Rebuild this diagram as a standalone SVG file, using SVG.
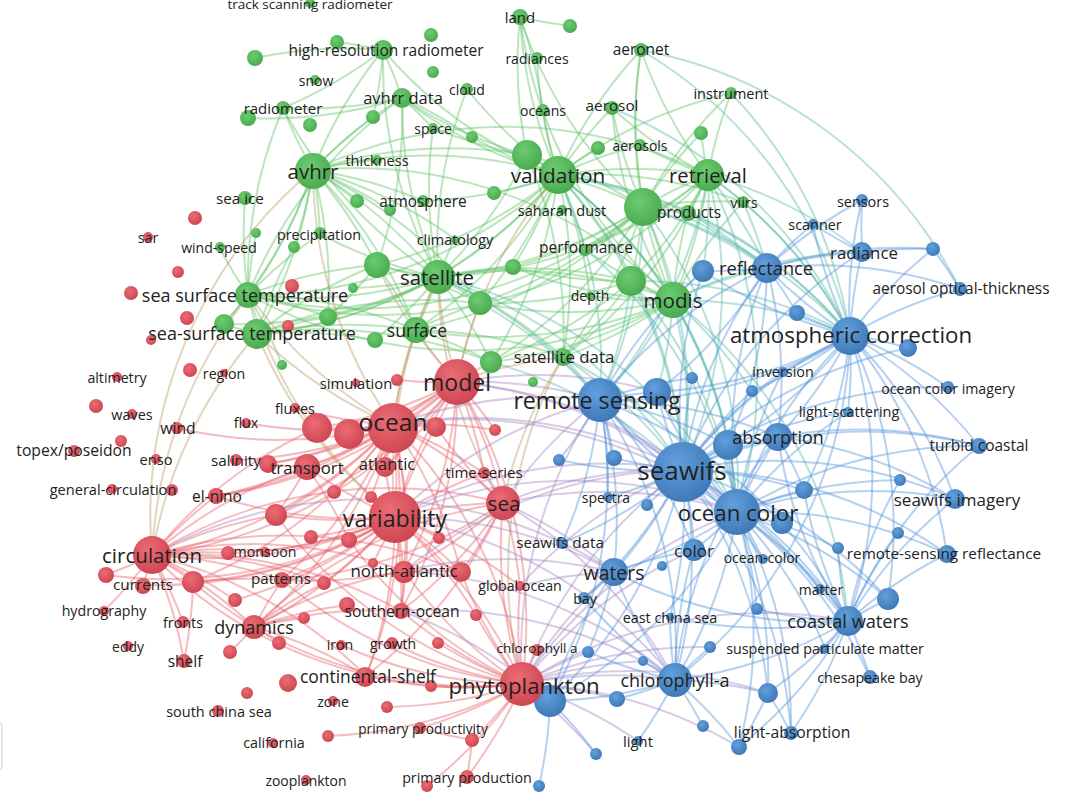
<svg xmlns="http://www.w3.org/2000/svg" width="1080" height="792" viewBox="0 0 1080 792">
<style>
text{font-family:"Open Sans","Liberation Sans",sans-serif;fill:#222;dominant-baseline:central;text-anchor:middle}
.G circle{fill:url(#gg)}
.R circle{fill:url(#gr)}
.B circle{fill:url(#gb)}
#connectors path{fill:none;stroke-width:2;stroke-opacity:.42}
.eg path{stroke:#5cc062}
.er path{stroke:#e8606a}
.eb path{stroke:#4f92da}
.egb path{stroke:#55b8a6}
.erg path{stroke:#b99a6a}
.erb path{stroke:#a284c0}
</style>
<defs>
<radialGradient id="gg" cx="40%" cy="35%" r="70%"><stop offset="0" stop-color="#6dcc71"/><stop offset="1" stop-color="#47a84c"/></radialGradient>
<radialGradient id="gr" cx="40%" cy="35%" r="70%"><stop offset="0" stop-color="#ec6c74"/><stop offset="1" stop-color="#cc4450"/></radialGradient>
<radialGradient id="gb" cx="40%" cy="35%" r="70%"><stop offset="0" stop-color="#62a0dc"/><stop offset="1" stop-color="#3d76b6"/></radialGradient>
</defs>
<rect width="1080" height="792" fill="#fff"/>
<rect x="-10" y="722" width="12" height="48" rx="4" fill="#fff" stroke="#cfcfcf"/>
<g id="connectors">
<g class="eg">
<path d="M313 170A450 450 0 0 1 249 295"/><path d="M313 170A450 450 0 0 1 257 334"/><path d="M313 170A450 450 0 0 1 224 324"/><path d="M313 170A450 450 0 0 1 438 277"/><path d="M313 170A450 450 0 0 1 377 265"/><path d="M313 170A450 450 0 0 1 320 234"/><path d="M313 170A450 450 0 0 1 294 247"/><path d="M313 170A450 450 0 0 1 377 160"/><path d="M313 170A450 450 0 0 1 390 210"/><path d="M313 170A450 450 0 0 1 423 201"/><path d="M313 170A450 450 0 0 1 558 175"/><path d="M313 170A450 450 0 0 1 527 155"/><path d="M313 170A450 450 0 0 1 402 98"/><path d="M313 170A450 450 0 0 1 383 50"/><path d="M313 170A450 450 0 0 1 283 108"/><path d="M313 170A450 450 0 0 1 416 330"/><path d="M313 170A450 450 0 0 1 328 317"/><path d="M313 170A450 450 0 0 1 480 303"/><path d="M313 170A450 450 0 0 1 673 300"/><path d="M313 170A450 450 0 0 1 708 175"/><path d="M313 170A450 450 0 0 1 455 239"/><path d="M313 170A450 450 0 0 1 373 117"/><path d="M313 170A450 450 0 0 1 357 201"/>
<path d="M558 175A450 450 0 0 1 520 17"/><path d="M558 175A450 450 0 0 1 543 110"/><path d="M558 175A450 450 0 0 1 641 50"/><path d="M558 175A450 450 0 0 1 612 108"/><path d="M558 175A450 450 0 0 1 643 207"/><path d="M558 175A450 450 0 0 1 708 175"/><path d="M558 175A450 450 0 0 1 673 300"/><path d="M558 175A450 450 0 0 1 631 281"/><path d="M558 175A450 450 0 0 1 438 277"/><path d="M558 175A450 450 0 0 1 416 330"/><path d="M558 175A450 450 0 0 1 480 303"/><path d="M558 175A450 450 0 0 1 491 362"/><path d="M558 175A450 450 0 0 1 563 357"/><path d="M558 175A450 450 0 0 1 585 249"/><path d="M558 175A450 450 0 0 1 513 267"/><path d="M558 175A450 450 0 0 1 688 213"/><path d="M558 175A450 450 0 0 1 743 202"/><path d="M558 175A450 450 0 0 1 731 93"/><path d="M558 175A450 450 0 0 1 249 295"/><path d="M558 175A450 450 0 0 1 257 334"/><path d="M558 175A450 450 0 0 1 423 201"/><path d="M558 175A450 450 0 0 1 383 50"/><path d="M558 175A450 450 0 0 1 402 98"/><path d="M558 175A450 450 0 0 1 467 89"/><path d="M558 175A450 450 0 0 1 494 193"/><path d="M558 175A450 450 0 0 1 598 148"/><path d="M558 175A450 450 0 0 1 640 145"/><path d="M558 175A450 450 0 0 1 590 296"/><path d="M558 175A450 450 0 0 1 377 265"/><path d="M558 175A450 450 0 0 1 537 58"/><path d="M558 175A450 450 0 0 1 472 137"/>
<path d="M527 155A450 450 0 0 1 520 17"/><path d="M527 155A450 450 0 0 1 438 277"/><path d="M527 155A450 450 0 0 1 643 207"/><path d="M527 155A450 450 0 0 1 673 300"/><path d="M527 155A450 450 0 0 1 402 98"/><path d="M527 155A450 450 0 0 1 433 128"/><path d="M527 155A450 450 0 0 1 563 357"/>
<path d="M643 207A450 450 0 0 1 641 50"/><path d="M643 207A450 450 0 0 1 612 108"/><path d="M643 207A450 450 0 0 1 708 175"/><path d="M643 207A450 450 0 0 1 673 300"/><path d="M643 207A450 450 0 0 1 631 281"/><path d="M643 207A450 450 0 0 1 438 277"/><path d="M643 207A450 450 0 0 1 563 357"/><path d="M643 207A450 450 0 0 1 513 267"/><path d="M643 207A450 450 0 0 1 585 249"/><path d="M643 207A450 450 0 0 1 688 213"/><path d="M643 207A450 450 0 0 1 743 202"/><path d="M643 207A450 450 0 0 1 731 93"/><path d="M643 207A450 450 0 0 1 701 133"/><path d="M643 207A450 450 0 0 1 520 17"/><path d="M643 207A450 450 0 0 1 480 303"/><path d="M643 207A450 450 0 0 1 416 330"/><path d="M643 207A450 450 0 0 1 249 295"/><path d="M643 207A450 450 0 0 1 491 362"/>
<path d="M708 175A450 450 0 0 1 641 50"/><path d="M708 175A450 450 0 0 1 731 93"/><path d="M708 175A450 450 0 0 1 673 300"/><path d="M708 175A450 450 0 0 1 631 281"/><path d="M708 175A450 450 0 0 1 743 202"/><path d="M708 175A450 450 0 0 1 688 213"/><path d="M708 175A450 450 0 0 1 438 277"/><path d="M708 175A450 450 0 0 1 563 357"/><path d="M708 175A450 450 0 0 1 612 108"/><path d="M708 175A450 450 0 0 1 640 145"/><path d="M708 175A450 450 0 0 1 701 133"/><path d="M708 175A450 450 0 0 1 249 295"/><path d="M708 175A450 450 0 0 1 585 249"/>
<path d="M438 277A450 450 0 0 1 249 295"/><path d="M438 277A450 450 0 0 1 257 334"/><path d="M438 277A450 450 0 0 1 224 324"/><path d="M438 277A450 450 0 0 1 416 330"/><path d="M438 277A450 450 0 0 1 480 303"/><path d="M438 277A450 450 0 0 1 491 362"/><path d="M438 277A450 450 0 0 1 673 300"/><path d="M438 277A450 450 0 0 1 631 281"/><path d="M438 277A450 450 0 0 1 563 357"/><path d="M438 277A450 450 0 0 1 377 265"/><path d="M438 277A450 450 0 0 1 513 267"/><path d="M438 277A450 450 0 0 1 320 234"/><path d="M438 277A450 450 0 0 1 383 50"/><path d="M438 277A450 450 0 0 1 402 98"/><path d="M438 277A450 450 0 0 1 433 128"/><path d="M438 277A450 450 0 0 1 455 239"/><path d="M438 277A450 450 0 0 1 328 317"/><path d="M438 277A450 450 0 0 1 375 340"/><path d="M438 277A450 450 0 0 1 283 108"/><path d="M438 277A450 450 0 0 1 467 89"/><path d="M438 277A450 450 0 0 1 353 288"/>
<path d="M673 300A450 450 0 0 1 631 281"/><path d="M673 300A450 450 0 0 1 563 357"/><path d="M673 300A450 450 0 0 1 513 267"/><path d="M673 300A450 450 0 0 1 585 249"/><path d="M673 300A450 450 0 0 1 688 213"/><path d="M673 300A450 450 0 0 1 743 202"/><path d="M673 300A450 450 0 0 1 612 108"/><path d="M673 300A450 450 0 0 1 641 50"/><path d="M673 300A450 450 0 0 1 480 303"/><path d="M673 300A450 450 0 0 1 491 362"/><path d="M673 300A450 450 0 0 1 590 296"/><path d="M673 300A450 450 0 0 1 416 330"/><path d="M673 300A450 450 0 0 1 249 295"/><path d="M673 300A450 450 0 0 1 520 17"/>
<path d="M248 295A450 450 0 0 1 257 334"/><path d="M248 295A450 450 0 0 1 224 324"/><path d="M248 295A450 450 0 0 1 328 317"/><path d="M248 295A450 450 0 0 1 377 265"/><path d="M248 295A450 450 0 0 1 416 330"/><path d="M248 295A450 450 0 0 1 320 234"/><path d="M248 295A450 450 0 0 1 219 247"/><path d="M248 295A450 450 0 0 1 256 233"/><path d="M248 295A450 450 0 0 1 245 198"/><path d="M248 295A450 450 0 0 1 283 108"/><path d="M248 295A450 450 0 0 1 402 98"/><path d="M248 295A450 450 0 0 1 282 365"/>
<path d="M257 334A450 450 0 0 1 224 324"/><path d="M257 334A450 450 0 0 1 328 317"/><path d="M257 334A450 450 0 0 1 377 265"/><path d="M257 334A450 450 0 0 1 416 330"/><path d="M257 334A450 450 0 0 1 480 303"/><path d="M257 334A450 450 0 0 1 375 340"/><path d="M257 334A450 450 0 0 1 294 247"/><path d="M257 334A450 450 0 0 1 491 362"/>
<path d="M383 50A450 450 0 0 1 402 98"/><path d="M383 50A450 450 0 0 1 283 108"/><path d="M383 50A450 450 0 0 1 373 117"/><path d="M255 58A450 450 0 0 1 383 50"/><path d="M337 42A450 450 0 0 1 383 50"/>
<path d="M402 98A450 450 0 0 1 377 265"/><path d="M402 98A450 450 0 0 1 283 108"/><path d="M402 98A450 450 0 0 1 248 118"/><path d="M402 98A450 450 0 0 1 433 128"/><path d="M402 98A450 450 0 0 1 472 137"/>
<path d="M520 17A450 450 0 0 1 543 110"/><path d="M570 26A450 450 0 0 1 520 17"/><path d="M377 265A450 450 0 0 1 416 330"/><path d="M377 265A450 450 0 0 1 480 303"/><path d="M377 265A450 450 0 0 1 328 317"/><path d="M416 330A450 450 0 0 1 480 303"/><path d="M416 330A450 450 0 0 1 491 362"/><path d="M416 330A450 450 0 0 1 563 357"/><path d="M631 281A450 450 0 0 1 563 357"/><path d="M631 281A450 450 0 0 1 513 267"/><path d="M631 281A450 450 0 0 1 480 303"/><path d="M631 281A450 450 0 0 1 491 362"/>
</g>
<g class="egb">
<path d="M673 300A450 450 0 0 1 850 335"/><path d="M673 300A450 450 0 0 1 767 268"/><path d="M673 300A450 450 0 0 1 683 470"/><path d="M673 300A450 450 0 0 1 737 512"/><path d="M673 300A450 450 0 0 1 600 400"/><path d="M673 300A450 450 0 0 1 778 437"/><path d="M673 300A450 450 0 0 1 848 621"/><path d="M673 300A450 450 0 0 1 862 252"/><path d="M673 300A450 450 0 0 1 703 271"/><path d="M673 300A450 450 0 0 1 657 392"/><path d="M673 300A450 450 0 0 1 728 445"/>
<path d="M708 175A450 450 0 0 1 850 335"/><path d="M708 175A450 450 0 0 1 767 268"/><path d="M708 175A450 450 0 0 1 862 252"/><path d="M708 175A450 450 0 0 1 683 470"/><path d="M708 175A450 450 0 0 1 737 512"/><path d="M708 175A450 450 0 0 1 600 400"/><path d="M708 175A450 450 0 0 1 703 271"/>
<path d="M643 207A450 450 0 0 1 850 335"/><path d="M643 207A450 450 0 0 1 600 400"/><path d="M643 207A450 450 0 0 1 683 470"/><path d="M643 207A450 450 0 0 1 767 268"/><path d="M643 207A450 450 0 0 1 737 512"/>
<path d="M558 175A450 450 0 0 1 683 470"/><path d="M558 175A450 450 0 0 1 850 335"/><path d="M558 175A450 450 0 0 1 600 400"/><path d="M558 175A450 450 0 0 1 737 512"/><path d="M558 175A450 450 0 0 1 767 268"/>
<path d="M631 281A450 450 0 0 1 850 335"/><path d="M631 281A450 450 0 0 1 683 470"/><path d="M631 281A450 450 0 0 1 600 400"/><path d="M631 281A450 450 0 0 1 737 512"/>
<path d="M688 213A450 450 0 0 1 850 335"/><path d="M688 213A450 450 0 0 1 767 268"/><path d="M743 202A450 450 0 0 1 850 335"/><path d="M743 202A450 450 0 0 1 767 268"/><path d="M731 93A450 450 0 0 1 850 335"/><path d="M641 50A450 450 0 0 1 850 335"/><path d="M641 50A450 450 0 0 1 960 289"/><path d="M612 108A450 450 0 0 1 850 335"/>
<path d="M438 277A450 450 0 0 1 600 400"/><path d="M438 277A450 450 0 0 1 683 470"/><path d="M438 277A450 450 0 0 1 737 512"/><path d="M563 357A450 450 0 0 1 683 470"/><path d="M563 357A450 450 0 0 1 600 400"/><path d="M563 357A450 450 0 0 1 737 512"/><path d="M585 249A450 450 0 0 1 737 512"/><path d="M480 303A450 450 0 0 1 600 400"/><path d="M491 362A450 450 0 0 1 683 470"/>
</g>
<g class="erg">
<path d="M457 382A450 450 0 0 1 438 277"/><path d="M457 382A450 450 0 0 1 416 330"/><path d="M457 382A450 450 0 0 1 480 303"/><path d="M457 382A450 450 0 0 1 491 362"/><path d="M457 382A450 450 0 0 1 558 175"/><path d="M457 382A450 450 0 0 1 377 265"/><path d="M457 382A450 450 0 0 1 563 357"/>
<path d="M393 425A450 450 0 0 1 438 277"/><path d="M393 425A450 450 0 0 1 249 295"/><path d="M393 425A450 450 0 0 1 257 334"/><path d="M393 425A450 450 0 0 1 313 170"/><path d="M393 425A450 450 0 0 1 416 330"/>
<path d="M395 517A450 450 0 0 1 249 295"/><path d="M395 517A450 450 0 0 1 438 277"/><path d="M395 517A450 450 0 0 1 257 334"/>
<path d="M152 555A450 450 0 0 1 249 295"/><path d="M152 555A450 450 0 0 1 257 334"/><path d="M152 555A450 450 0 0 1 313 170"/><path d="M503 503A450 450 0 0 1 438 277"/><path d="M503 503A450 450 0 0 1 563 357"/><path d="M522 684A450 450 0 0 1 563 357"/>
</g>
<g class="er">
<path d="M393 425A450 450 0 0 1 457 382"/><path d="M393 425A450 450 0 0 1 317 428"/><path d="M393 425A450 450 0 0 1 349 434"/><path d="M393 425A450 450 0 0 1 436 427"/><path d="M393 425A450 450 0 0 1 395 517"/><path d="M393 425A450 450 0 0 1 503 503"/><path d="M393 425A450 450 0 0 1 152 555"/><path d="M393 425A450 450 0 0 1 307 467"/><path d="M393 425A450 450 0 0 1 268 464"/><path d="M393 425A450 450 0 0 1 385 467"/><path d="M393 425A450 450 0 0 1 276 515"/><path d="M393 425A450 450 0 0 1 216 496"/><path d="M393 425A450 450 0 0 1 404 571"/><path d="M393 425A450 450 0 0 1 522 684"/><path d="M393 425A450 450 0 0 1 254 627"/><path d="M393 425A450 450 0 0 1 401 611"/><path d="M393 425A450 450 0 0 1 282 580"/><path d="M393 425A450 450 0 0 1 193 582"/><path d="M393 425A450 450 0 0 1 484 473"/><path d="M393 425A450 450 0 0 1 236 460"/><path d="M393 425A450 450 0 0 1 295 408"/><path d="M393 425A450 450 0 0 1 246 423"/><path d="M393 425A450 450 0 0 1 177 428"/><path d="M393 425A450 450 0 0 1 334 492"/><path d="M393 425A450 450 0 0 1 371 497"/><path d="M393 425A450 450 0 0 1 461 572"/><path d="M393 425A450 450 0 0 1 495 430"/><path d="M393 425A450 450 0 0 1 366 676"/>
<path d="M395 517A450 450 0 0 1 152 555"/><path d="M395 517A450 450 0 0 1 254 627"/><path d="M395 517A450 450 0 0 1 503 503"/><path d="M395 517A450 450 0 0 1 404 571"/><path d="M395 517A450 450 0 0 1 461 572"/><path d="M395 517A450 450 0 0 1 401 611"/><path d="M395 517A450 450 0 0 1 522 684"/><path d="M395 517A450 450 0 0 1 366 676"/><path d="M395 517A450 450 0 0 1 282 580"/><path d="M395 517A450 450 0 0 1 276 515"/><path d="M395 517A450 450 0 0 1 216 496"/><path d="M395 517A450 450 0 0 1 307 467"/><path d="M395 517A450 450 0 0 1 193 582"/><path d="M395 517A450 450 0 0 1 265 551"/><path d="M395 517A450 450 0 0 1 228 553"/><path d="M395 517A450 450 0 0 1 349 540"/><path d="M395 517A450 450 0 0 1 311 537"/><path d="M395 517A450 450 0 0 1 385 467"/><path d="M395 517A450 450 0 0 1 457 382"/><path d="M395 517A450 450 0 0 1 436 427"/><path d="M395 517A450 450 0 0 1 484 473"/><path d="M395 517A450 450 0 0 1 520 586"/><path d="M395 517A450 450 0 0 1 324 583"/><path d="M395 517A450 450 0 0 1 235 600"/><path d="M395 517A450 450 0 0 1 106 575"/><path d="M395 517A450 450 0 0 1 143 585"/><path d="M395 517A450 450 0 0 1 476 615"/><path d="M395 517A450 450 0 0 1 439 538"/><path d="M395 517A450 450 0 0 1 373 563"/>
<path d="M457 382A450 450 0 0 1 503 503"/><path d="M457 382A450 450 0 0 1 522 684"/><path d="M457 382A450 450 0 0 1 436 427"/><path d="M457 382A450 450 0 0 1 317 428"/><path d="M457 382A450 450 0 0 1 349 434"/><path d="M457 382A450 450 0 0 1 307 467"/><path d="M457 382A450 450 0 0 1 397 380"/><path d="M457 382A450 450 0 0 1 495 430"/><path d="M457 382A450 450 0 0 1 152 555"/><path d="M457 382A450 450 0 0 1 404 571"/><path d="M457 382A450 450 0 0 1 276 515"/><path d="M457 382A450 450 0 0 1 385 467"/><path d="M457 382A450 450 0 0 1 484 473"/><path d="M457 382A450 450 0 0 1 216 496"/><path d="M457 382A450 450 0 0 1 268 464"/><path d="M457 382A450 450 0 0 1 401 611"/>
<path d="M152 555A450 450 0 0 1 106 575"/><path d="M152 555A450 450 0 0 1 143 585"/><path d="M152 555A450 450 0 0 1 193 582"/><path d="M152 555A450 450 0 0 1 282 580"/><path d="M152 555A450 450 0 0 1 254 627"/><path d="M152 555A450 450 0 0 1 183 622"/><path d="M152 555A450 450 0 0 1 184 661"/><path d="M152 555A450 450 0 0 1 265 551"/><path d="M152 555A450 450 0 0 1 228 553"/><path d="M152 555A450 450 0 0 1 307 467"/><path d="M152 555A450 450 0 0 1 216 496"/><path d="M152 555A450 450 0 0 1 276 515"/><path d="M152 555A450 450 0 0 1 404 571"/><path d="M152 555A450 450 0 0 1 503 503"/><path d="M152 555A450 450 0 0 1 104 611"/><path d="M152 555A450 450 0 0 1 317 428"/><path d="M152 555A450 450 0 0 1 366 676"/><path d="M152 555A450 450 0 0 1 401 611"/><path d="M152 555A450 450 0 0 1 324 583"/><path d="M152 555A450 450 0 0 1 461 572"/><path d="M152 555A450 450 0 0 1 235 600"/>
<path d="M522 684A450 450 0 0 1 467 777"/><path d="M522 684A450 450 0 0 1 420 728"/><path d="M522 684A450 450 0 0 1 472 740"/><path d="M522 684A450 450 0 0 1 366 676"/><path d="M522 684A450 450 0 0 1 401 611"/><path d="M522 684A450 450 0 0 1 392 643"/><path d="M522 684A450 450 0 0 1 438 643"/><path d="M522 684A450 450 0 0 1 341 645"/><path d="M522 684A450 450 0 0 1 404 571"/><path d="M522 684A450 450 0 0 1 461 572"/><path d="M522 684A450 450 0 0 1 503 503"/><path d="M522 684A450 450 0 0 1 476 615"/><path d="M522 684A450 450 0 0 1 537 650"/><path d="M522 684A450 450 0 0 1 520 586"/><path d="M522 684A450 450 0 0 1 431 686"/><path d="M522 684A450 450 0 0 1 387 707"/><path d="M522 684A450 450 0 0 1 254 627"/><path d="M522 684A450 450 0 0 1 282 580"/><path d="M522 684A450 450 0 0 1 276 515"/><path d="M522 684A450 450 0 0 1 349 540"/><path d="M522 684A450 450 0 0 1 152 555"/><path d="M522 684A450 450 0 0 1 427 786"/><path d="M522 684A450 450 0 0 1 328 736"/>
<path d="M254 627A450 450 0 0 1 282 580"/><path d="M254 627A450 450 0 0 1 193 582"/><path d="M254 627A450 450 0 0 1 366 676"/><path d="M254 627A450 450 0 0 1 404 571"/><path d="M254 627A450 450 0 0 1 401 611"/><path d="M254 627A450 450 0 0 1 279 643"/><path d="M254 627A450 450 0 0 1 230 652"/><path d="M254 627A450 450 0 0 1 347 605"/><path d="M254 627A450 450 0 0 1 304 618"/><path d="M254 627A450 450 0 0 1 324 583"/><path d="M254 627A450 450 0 0 1 503 503"/>
<path d="M503 503A450 450 0 0 1 404 571"/><path d="M503 503A450 450 0 0 1 461 572"/><path d="M503 503A450 450 0 0 1 401 611"/><path d="M503 503A450 450 0 0 1 484 473"/><path d="M503 503A450 450 0 0 1 520 586"/><path d="M503 503A450 450 0 0 1 436 427"/><path d="M503 503A450 450 0 0 1 282 580"/><path d="M503 503A450 450 0 0 1 366 676"/>
<path d="M472 740A450 450 0 0 1 467 777"/><path d="M472 740A450 450 0 0 1 420 728"/><path d="M307 467A450 450 0 0 1 268 464"/><path d="M307 467A450 450 0 0 1 216 496"/><path d="M307 467A450 450 0 0 1 276 515"/><path d="M307 467A450 450 0 0 1 349 540"/><path d="M404 571A450 450 0 0 1 461 572"/><path d="M404 571A450 450 0 0 1 401 611"/><path d="M404 571A450 450 0 0 1 282 580"/><path d="M193 582A450 450 0 0 1 282 580"/><path d="M193 582A450 450 0 0 1 184 661"/>
</g>
<g class="erb">
<path d="M522 684A450 450 0 0 1 550 701"/><path d="M522 684A450 450 0 0 1 675 680"/><path d="M522 684A450 450 0 0 1 614 572"/><path d="M522 684A450 450 0 0 1 683 470"/><path d="M522 684A450 450 0 0 1 737 512"/><path d="M522 684A450 450 0 0 1 848 621"/><path d="M522 684A450 450 0 0 1 694 550"/><path d="M522 684A450 450 0 0 1 617 699"/><path d="M522 684A450 450 0 0 1 638 741"/><path d="M522 684A450 450 0 0 1 739 747"/><path d="M522 684A450 450 0 0 1 768 693"/><path d="M522 684A450 450 0 0 1 588 652"/><path d="M522 684A450 450 0 0 1 643 661"/><path d="M522 684A450 450 0 0 1 596 754"/><path d="M522 684A450 450 0 0 1 600 400"/><path d="M522 684A450 450 0 0 1 710 647"/>
<path d="M503 503A450 450 0 0 1 683 470"/><path d="M503 503A450 450 0 0 1 600 400"/><path d="M503 503A450 450 0 0 1 614 572"/><path d="M503 503A450 450 0 0 1 737 512"/><path d="M503 503A450 450 0 0 1 675 680"/>
<path d="M395 517A450 450 0 0 1 683 470"/><path d="M395 517A450 450 0 0 1 600 400"/><path d="M395 517A450 450 0 0 1 675 680"/><path d="M395 517A450 450 0 0 1 737 512"/><path d="M395 517A450 450 0 0 1 614 572"/>
<path d="M457 382A450 450 0 0 1 600 400"/><path d="M457 382A450 450 0 0 1 683 470"/><path d="M457 382A450 450 0 0 1 737 512"/><path d="M457 382A450 450 0 0 1 657 392"/><path d="M393 425A450 450 0 0 1 600 400"/><path d="M393 425A450 450 0 0 1 683 470"/><path d="M393 425A450 450 0 0 1 737 512"/>
<path d="M404 571A450 450 0 0 1 675 680"/><path d="M404 571A450 450 0 0 1 614 572"/><path d="M404 571A450 450 0 0 1 683 470"/><path d="M401 611A450 450 0 0 1 675 680"/><path d="M401 611A450 450 0 0 1 550 701"/><path d="M152 555A450 450 0 0 1 614 572"/><path d="M520 586A450 450 0 0 1 614 572"/><path d="M520 586A450 450 0 0 1 683 470"/>
</g>
<g class="eb">
<path d="M683 470A450 450 0 0 1 600 400"/><path d="M683 470A450 450 0 0 1 737 512"/><path d="M683 470A450 450 0 0 1 850 335"/><path d="M683 470A450 450 0 0 1 767 268"/><path d="M683 470A450 450 0 0 1 778 437"/><path d="M683 470A450 450 0 0 1 728 445"/><path d="M683 470A450 450 0 0 1 848 621"/><path d="M683 470A450 450 0 0 1 675 680"/><path d="M683 470A450 450 0 0 1 614 572"/><path d="M683 470A450 450 0 0 1 694 550"/><path d="M683 470A450 450 0 0 1 657 392"/><path d="M683 470A450 450 0 0 1 703 271"/><path d="M683 470A450 450 0 0 1 862 252"/><path d="M683 470A450 450 0 0 1 608 497"/><path d="M683 470A450 450 0 0 1 562 543"/><path d="M683 470A450 450 0 0 1 804 490"/><path d="M683 470A450 450 0 0 1 955 499"/><path d="M683 470A450 450 0 0 1 947 554"/><path d="M683 470A450 450 0 0 1 979 446"/><path d="M683 470A450 450 0 0 1 550 701"/><path d="M683 470A450 450 0 0 1 948 387"/><path d="M683 470A450 450 0 0 1 908 348"/><path d="M683 470A450 450 0 0 1 768 693"/><path d="M683 470A450 450 0 0 1 888 599"/><path d="M683 470A450 450 0 0 1 791 733"/><path d="M683 470A450 450 0 0 1 584 598"/><path d="M683 470A450 450 0 0 1 670 617"/><path d="M683 470A450 450 0 0 1 820 589"/><path d="M683 470A450 450 0 0 1 614 458"/><path d="M683 470A450 450 0 0 1 647 505"/><path d="M683 470A450 450 0 0 1 559 460"/><path d="M683 470A450 450 0 0 1 692 378"/><path d="M683 470A450 450 0 0 1 752 391"/><path d="M683 470A450 450 0 0 1 783 371"/><path d="M683 470A450 450 0 0 1 848 412"/><path d="M683 470A450 450 0 0 1 763 559"/>
<path d="M737 512A450 450 0 0 1 600 400"/><path d="M737 512A450 450 0 0 1 850 335"/><path d="M737 512A450 450 0 0 1 767 268"/><path d="M737 512A450 450 0 0 1 778 437"/><path d="M737 512A450 450 0 0 1 728 445"/><path d="M737 512A450 450 0 0 1 848 621"/><path d="M737 512A450 450 0 0 1 675 680"/><path d="M737 512A450 450 0 0 1 614 572"/><path d="M737 512A450 450 0 0 1 694 550"/><path d="M737 512A450 450 0 0 1 763 559"/><path d="M737 512A450 450 0 0 1 947 554"/><path d="M737 512A450 450 0 0 1 955 499"/><path d="M737 512A450 450 0 0 1 979 446"/><path d="M737 512A450 450 0 0 1 791 733"/><path d="M737 512A450 450 0 0 1 768 693"/><path d="M737 512A450 450 0 0 1 888 599"/><path d="M737 512A450 450 0 0 1 804 490"/><path d="M737 512A450 450 0 0 1 820 589"/><path d="M737 512A450 450 0 0 1 825 648"/><path d="M737 512A450 450 0 0 1 870 677"/><path d="M737 512A450 450 0 0 1 838 548"/><path d="M737 512A450 450 0 0 1 757 609"/><path d="M737 512A450 450 0 0 1 739 747"/><path d="M737 512A450 450 0 0 1 550 701"/><path d="M737 512A450 450 0 0 1 783 371"/><path d="M737 512A450 450 0 0 1 848 412"/><path d="M737 512A450 450 0 0 1 900 480"/><path d="M737 512A450 450 0 0 1 657 392"/>
<path d="M850 335A450 450 0 0 1 600 400"/><path d="M850 335A450 450 0 0 1 767 268"/><path d="M850 335A450 450 0 0 1 778 437"/><path d="M850 335A450 450 0 0 1 728 445"/><path d="M850 335A450 450 0 0 1 848 621"/><path d="M850 335A450 450 0 0 1 960 289"/><path d="M850 335A450 450 0 0 1 908 348"/><path d="M850 335A450 450 0 0 1 862 252"/><path d="M850 335A450 450 0 0 1 933 249"/><path d="M850 335A450 450 0 0 1 979 446"/><path d="M850 335A450 450 0 0 1 948 387"/><path d="M850 335A450 450 0 0 1 955 499"/><path d="M850 335A450 450 0 0 1 947 554"/><path d="M850 335A450 450 0 0 1 813 224"/><path d="M850 335A450 450 0 0 1 862 200"/><path d="M850 335A450 450 0 0 1 797 313"/><path d="M850 335A450 450 0 0 1 783 371"/><path d="M850 335A450 450 0 0 1 848 412"/><path d="M850 335A450 450 0 0 1 888 599"/><path d="M850 335A450 450 0 0 1 804 490"/><path d="M850 335A450 450 0 0 1 752 391"/><path d="M850 335A450 450 0 0 1 657 392"/><path d="M850 335A450 450 0 0 1 703 271"/><path d="M850 335A450 450 0 0 1 675 680"/>
<path d="M600 400A450 450 0 0 1 657 392"/><path d="M600 400A450 450 0 0 1 692 378"/><path d="M600 400A450 450 0 0 1 767 268"/><path d="M600 400A450 450 0 0 1 703 271"/><path d="M600 400A450 450 0 0 1 778 437"/><path d="M600 400A450 450 0 0 1 728 445"/><path d="M600 400A450 450 0 0 1 614 572"/><path d="M600 400A450 450 0 0 1 675 680"/><path d="M600 400A450 450 0 0 1 848 621"/><path d="M600 400A450 450 0 0 1 694 550"/><path d="M600 400A450 450 0 0 1 608 497"/><path d="M600 400A450 450 0 0 1 562 543"/><path d="M600 400A450 450 0 0 1 550 701"/><path d="M600 400A450 450 0 0 1 559 460"/><path d="M600 400A450 450 0 0 1 614 458"/>
<path d="M848 621A450 450 0 0 1 888 599"/><path d="M848 621A450 450 0 0 1 820 589"/><path d="M848 621A450 450 0 0 1 825 648"/><path d="M848 621A450 450 0 0 1 870 677"/><path d="M848 621A450 450 0 0 1 768 693"/><path d="M848 621A450 450 0 0 1 791 733"/><path d="M848 621A450 450 0 0 1 739 747"/><path d="M848 621A450 450 0 0 1 675 680"/><path d="M848 621A450 450 0 0 1 947 554"/><path d="M848 621A450 450 0 0 1 955 499"/><path d="M848 621A450 450 0 0 1 979 446"/><path d="M848 621A450 450 0 0 1 838 548"/><path d="M848 621A450 450 0 0 1 757 609"/><path d="M848 621A450 450 0 0 1 778 437"/><path d="M848 621A450 450 0 0 1 614 572"/><path d="M848 621A450 450 0 0 1 670 617"/><path d="M848 621A450 450 0 0 1 804 490"/><path d="M848 621A450 450 0 0 1 900 480"/><path d="M848 621A450 450 0 0 1 898 533"/>
<path d="M675 680A450 450 0 0 1 550 701"/><path d="M675 680A450 450 0 0 1 614 572"/><path d="M675 680A450 450 0 0 1 617 699"/><path d="M675 680A450 450 0 0 1 643 661"/><path d="M675 680A450 450 0 0 1 588 652"/><path d="M675 680A450 450 0 0 1 710 647"/><path d="M675 680A450 450 0 0 1 768 693"/><path d="M675 680A450 450 0 0 1 739 747"/><path d="M675 680A450 450 0 0 1 670 617"/><path d="M675 680A450 450 0 0 1 584 598"/><path d="M675 680A450 450 0 0 1 694 550"/><path d="M675 680A450 450 0 0 1 703 726"/><path d="M675 680A450 450 0 0 1 778 437"/><path d="M675 680A450 450 0 0 1 638 741"/>
<path d="M767 268A450 450 0 0 1 703 271"/><path d="M767 268A450 450 0 0 1 862 252"/><path d="M767 268A450 450 0 0 1 813 224"/><path d="M767 268A450 450 0 0 1 862 200"/><path d="M767 268A450 450 0 0 1 933 249"/><path d="M767 268A450 450 0 0 1 960 289"/><path d="M767 268A450 450 0 0 1 778 437"/><path d="M767 268A450 450 0 0 1 797 313"/><path d="M767 268A450 450 0 0 1 657 392"/><path d="M767 268A450 450 0 0 1 728 445"/>
<path d="M862 252A450 450 0 0 1 862 200"/><path d="M862 252A450 450 0 0 1 813 224"/><path d="M862 252A450 450 0 0 1 933 249"/><path d="M933 249A450 450 0 0 1 960 289"/><path d="M550 701A450 450 0 0 1 539 786"/><path d="M550 701A450 450 0 0 1 596 754"/><path d="M550 701A450 450 0 0 1 614 572"/><path d="M778 437A450 450 0 0 1 728 445"/><path d="M778 437A450 450 0 0 1 804 490"/><path d="M778 437A450 450 0 0 1 955 499"/><path d="M778 437A450 450 0 0 1 979 446"/><path d="M614 572A450 450 0 0 1 584 598"/><path d="M614 572A450 450 0 0 1 588 652"/><path d="M614 572A450 450 0 0 1 694 550"/><path d="M768 693A450 450 0 0 1 791 733"/><path d="M768 693A450 450 0 0 1 739 747"/>
</g>
</g>
<g id="nodes">
<g id="n-g3" class="G"><circle cx="337" cy="42" r="7"/></g>
<g id="n-g4" class="G"><circle cx="255" cy="58" r="8"/></g>
<g id="n-g7" class="G"><circle cx="248" cy="118" r="8"/></g>
<g id="n-g8" class="G"><circle cx="310" cy="125" r="7"/></g>
<g id="n-g10" class="G"><circle cx="431" cy="35" r="7"/></g>
<g id="n-g11" class="G"><circle cx="433" cy="72" r="6"/></g>
<g id="n-g14" class="G"><circle cx="373" cy="117" r="7"/></g>
<g id="n-g15" class="G"><circle cx="472" cy="137" r="6"/></g>
<g id="n-g17" class="G"><circle cx="570" cy="26" r="7"/></g>
<g id="n-g23" class="G"><circle cx="701" cy="133" r="7"/></g>
<g id="n-g25" class="G"><circle cx="598" cy="148" r="7"/></g>
<g id="n-g26" class="G"><circle cx="527" cy="155" r="15"/></g>
<g id="n-g30" class="G"><circle cx="643" cy="207" r="19"/></g>
<g id="n-g34" class="G"><circle cx="357" cy="201" r="7"/></g>
<g id="n-g36" class="G"><circle cx="390" cy="210" r="6"/></g>
<g id="n-g37" class="G"><circle cx="494" cy="193" r="7"/></g>
<g id="n-g42" class="G"><circle cx="294" cy="247" r="6"/></g>
<g id="n-g44" class="G"><circle cx="256" cy="233" r="5"/></g>
<g id="n-g46" class="G"><circle cx="377" cy="265" r="13"/></g>
<g id="n-g47" class="G"><circle cx="480" cy="303" r="12"/></g>
<g id="n-g48" class="G"><circle cx="513" cy="267" r="8"/></g>
<g id="n-g51" class="G"><circle cx="224" cy="324" r="10"/></g>
<g id="n-g52" class="G"><circle cx="328" cy="317" r="9"/></g>
<g id="n-g53" class="G"><circle cx="353" cy="288" r="5"/></g>
<g id="n-g55" class="G"><circle cx="375" cy="340" r="8"/></g>
<g id="n-g56" class="G"><circle cx="491" cy="362" r="11"/></g>
<g id="n-g58" class="G"><circle cx="533" cy="382" r="5"/></g>
<g id="n-g60" class="G"><circle cx="631" cy="281" r="15"/></g>
<g id="n-g62" class="G"><circle cx="282" cy="365" r="5"/></g>
<g id="n-r1" class="R"><circle cx="195" cy="218" r="7"/></g>
<g id="n-r3" class="R"><circle cx="178" cy="272" r="6"/></g>
<g id="n-r4" class="R"><circle cx="131" cy="293" r="7"/></g>
<g id="n-r5" class="R"><circle cx="187" cy="318" r="7"/></g>
<g id="n-r6" class="R"><circle cx="151" cy="340" r="5"/></g>
<g id="n-r7" class="R"><circle cx="292" cy="286" r="7"/></g>
<g id="n-r8" class="R"><circle cx="288" cy="326" r="6"/></g>
<g id="n-r10" class="R"><circle cx="190" cy="370" r="7"/></g>
<g id="n-r12b" class="R"><circle cx="397" cy="380" r="6"/></g>
<g id="n-r13" class="R"><circle cx="96" cy="406" r="7"/></g>
<g id="n-r19" class="R"><circle cx="121" cy="441" r="6"/></g>
<g id="n-r23" class="R"><circle cx="268" cy="464" r="9"/></g>
<g id="n-r25" class="R"><circle cx="172" cy="490" r="6"/></g>
<g id="n-r27" class="R"><circle cx="276" cy="515" r="11"/></g>
<g id="n-r28" class="R"><circle cx="334" cy="492" r="7"/></g>
<g id="n-r29" class="R"><circle cx="371" cy="497" r="6"/></g>
<g id="n-r31" class="R"><circle cx="317" cy="428" r="15"/></g>
<g id="n-r32" class="R"><circle cx="349" cy="434" r="15"/></g>
<g id="n-r33" class="R"><circle cx="436" cy="427" r="10"/></g>
<g id="n-r34" class="R"><circle cx="495" cy="430" r="6"/></g>
<g id="n-r40" class="R"><circle cx="311" cy="537" r="7"/></g>
<g id="n-r41" class="R"><circle cx="349" cy="540" r="8"/></g>
<g id="n-r42" class="R"><circle cx="439" cy="538" r="6"/></g>
<g id="n-r44" class="R"><circle cx="228" cy="553" r="7"/></g>
<g id="n-r46" class="R"><circle cx="106" cy="575" r="8"/></g>
<g id="n-r48" class="R"><circle cx="193" cy="582" r="11"/></g>
<g id="n-r50" class="R"><circle cx="324" cy="583" r="7"/></g>
<g id="n-r51" class="R"><circle cx="235" cy="600" r="7"/></g>
<g id="n-r53" class="R"><circle cx="461" cy="572" r="10"/></g>
<g id="n-r54" class="R"><circle cx="373" cy="563" r="5"/></g>
<g id="n-r58" class="R"><circle cx="304" cy="618" r="6"/></g>
<g id="n-r59" class="R"><circle cx="347" cy="605" r="8"/></g>
<g id="n-r61" class="R"><circle cx="476" cy="615" r="6"/></g>
<g id="n-r62" class="R"><circle cx="279" cy="643" r="7"/></g>
<g id="n-r63" class="R"><circle cx="230" cy="652" r="7"/></g>
<g id="n-r66" class="R"><circle cx="438" cy="643" r="6"/></g>
<g id="n-r70" class="R"><circle cx="288" cy="683" r="9"/></g>
<g id="n-r71" class="R"><circle cx="247" cy="693" r="6"/></g>
<g id="n-r72" class="R"><circle cx="431" cy="686" r="6"/></g>
<g id="n-r74" class="R"><circle cx="387" cy="707" r="6"/></g>
<g id="n-r77" class="R"><circle cx="328" cy="736" r="6"/></g>
<g id="n-r79" class="R"><circle cx="472" cy="740" r="7"/></g>
<g id="n-r82" class="R"><circle cx="427" cy="786" r="6"/></g>
<g id="n-b2" class="B"><circle cx="657" cy="392" r="14"/></g>
<g id="n-b3" class="B"><circle cx="692" cy="378" r="6"/></g>
<g id="n-b4" class="B"><circle cx="703" cy="271" r="11"/></g>
<g id="n-b6" class="B"><circle cx="797" cy="313" r="8"/></g>
<g id="n-b10" class="B"><circle cx="933" cy="249" r="7"/></g>
<g id="n-b13" class="B"><circle cx="908" cy="348" r="9"/></g>
<g id="n-b15" class="B"><circle cx="752" cy="391" r="6"/></g>
<g id="n-b19" class="B"><circle cx="728" cy="445" r="15"/></g>
<g id="n-b21" class="B"><circle cx="900" cy="480" r="6"/></g>
<g id="n-b23" class="B"><circle cx="804" cy="490" r="9"/></g>
<g id="n-b26" class="B"><circle cx="782" cy="523" r="11"/></g>
<g id="n-b28" class="B"><circle cx="559" cy="460" r="6"/></g>
<g id="n-b29" class="B"><circle cx="614" cy="458" r="8"/></g>
<g id="n-b30" class="B"><circle cx="647" cy="505" r="6"/></g>
<g id="n-b33" class="B"><circle cx="662" cy="566" r="5"/></g>
<g id="n-b38" class="B"><circle cx="838" cy="548" r="6"/></g>
<g id="n-b40" class="B"><circle cx="898" cy="533" r="6"/></g>
<g id="n-b42" class="B"><circle cx="888" cy="599" r="11"/></g>
<g id="n-b43" class="B"><circle cx="757" cy="609" r="6"/></g>
<g id="n-b47" class="B"><circle cx="768" cy="693" r="10"/></g>
<g id="n-b49" class="B"><circle cx="739" cy="747" r="8"/></g>
<g id="n-b51" class="B"><circle cx="588" cy="652" r="6"/></g>
<g id="n-b52" class="B"><circle cx="643" cy="661" r="5"/></g>
<g id="n-b53" class="B"><circle cx="617" cy="699" r="8"/></g>
<g id="n-b54" class="B"><circle cx="710" cy="647" r="6"/></g>
<g id="n-b55" class="B"><circle cx="550" cy="701" r="16"/></g>
<g id="n-b57" class="B"><circle cx="596" cy="754" r="6"/></g>
<g id="n-b58" class="B"><circle cx="539" cy="786" r="6"/></g>
<g id="n-b59" class="B"><circle cx="703" cy="726" r="6"/></g>

<g id="n-track-scanning-radiometer" class="G"><circle cx="310" cy="3" r="5"/><text x="310" y="4" font-size="13.5">track scanning radiometer</text></g>
<g id="n-snow" class="G"><circle cx="315" cy="80" r="5"/><text x="316" y="80" font-size="14">snow</text></g>
<g id="n-radiometer" class="G"><circle cx="283" cy="108" r="7"/><text x="283" y="108" font-size="15">radiometer</text></g>
<g id="n-cloud" class="G"><circle cx="467" cy="89" r="6"/><text x="467" y="89" font-size="14">cloud</text></g>
<g id="n-space" class="G"><circle cx="433" cy="128" r="5"/><text x="433" y="128" font-size="14">space</text></g>
<g id="n-land" class="G"><circle cx="520" cy="17" r="8"/><text x="520" y="17" font-size="15">land</text></g>
<g id="n-radiances" class="G"><circle cx="537" cy="58" r="6"/><text x="537" y="58" font-size="14">radiances</text></g>
<g id="n-aeronet" class="G"><circle cx="641" cy="50" r="7"/><text x="641" y="49" font-size="15.5">aeronet</text></g>
<g id="n-oceans" class="G"><circle cx="543" cy="110" r="6"/><text x="543" y="110" font-size="14">oceans</text></g>
<g id="n-aerosol" class="G"><circle cx="612" cy="108" r="7"/><text x="612" y="105" font-size="15.3">aerosol</text></g>
<g id="n-instrument" class="G"><circle cx="731" cy="93" r="6"/><text x="731" y="93" font-size="14.5">instrument</text></g>
<g id="n-aerosols" class="G"><circle cx="640" cy="145" r="6"/><text x="640" y="145" font-size="14">aerosols</text></g>
<g id="n-viirs" class="G"><circle cx="743" cy="202" r="6"/><text x="744" y="202" font-size="14.5">viirs</text></g>
<g id="n-saharan-dust" class="G"><circle cx="562" cy="210" r="5"/><text x="562" y="210" font-size="14.5">saharan dust</text></g>
<g id="n-thickness" class="G"><circle cx="377" cy="160" r="5"/><text x="377" y="160" font-size="14.5">thickness</text></g>
<g id="n-atmosphere" class="G"><circle cx="423" cy="201" r="6"/><text x="423" y="201" font-size="15.4">atmosphere</text></g>
<g id="n-climatology" class="G"><circle cx="455" cy="240" r="4"/><text x="455" y="239" font-size="14.4">climatology</text></g>
<g id="n-performance" class="G"><circle cx="585" cy="250" r="6"/><text x="586" y="247" font-size="15.5">performance</text></g>
<g id="n-sea-ice" class="G"><circle cx="245" cy="198" r="7"/><text x="240" y="198" font-size="15.2">sea ice</text></g>
<g id="n-precipitation" class="G"><circle cx="320" cy="233" r="6"/><text x="319" y="234" font-size="14.2">precipitation</text></g>
<g id="n-wind-speed" class="G"><circle cx="220" cy="247" r="5"/><text x="219" y="247" font-size="14">wind-speed</text></g>
<g id="n-depth" class="G"><circle cx="590" cy="296" r="4"/><text x="590" y="295" font-size="14">depth</text></g>
<g id="n-products" class="G"><circle cx="688" cy="213" r="8"/><text x="689" y="212" font-size="15.4">products</text></g>
<g id="n-high-resolution-radiometer" class="G"><circle cx="383" cy="50" r="10"/><text x="386" y="50" font-size="15.5">high-resolution radiometer</text></g>
<g id="n-avhrr-data" class="G"><circle cx="402" cy="98" r="10"/><text x="403" y="97" font-size="16.5">avhrr data</text></g>
<g id="n-surface" class="G"><circle cx="416" cy="330" r="13"/><text x="417" y="330" font-size="17.6">surface</text></g>
<g id="n-satellite-data" class="G"><circle cx="563" cy="357" r="9"/><text x="564" y="356" font-size="16.9">satellite data</text></g>
<g id="n-sea-surface-temperature" class="G"><circle cx="248" cy="295" r="13"/><text x="245" y="295" font-size="18">sea surface temperature</text></g>
<g id="n-sea-surface-temperature-2" class="G"><circle cx="257" cy="334" r="15"/><text x="252" y="333" font-size="18">sea-surface temperature</text></g>
<g id="n-avhrr" class="G"><circle cx="313" cy="171" r="18"/><text x="313" y="171" font-size="20.5">avhrr</text></g>
<g id="n-retrieval" class="G"><circle cx="708" cy="175" r="16"/><text x="708" y="175" font-size="20.2">retrieval</text></g>
<g id="n-satellite" class="G"><circle cx="438" cy="277" r="17"/><text x="437" y="277" font-size="20.4">satellite</text></g>
<g id="n-modis" class="G"><circle cx="673" cy="300" r="18"/><text x="673" y="300" font-size="20.6">modis</text></g>
<g id="n-validation" class="G"><circle cx="558" cy="175" r="19"/><text x="558" y="175" font-size="20.8">validation</text></g>

<g id="n-sar" class="R"><circle cx="148" cy="237" r="5"/><text x="148" y="237" font-size="14.3">sar</text></g>
<g id="n-altimetry" class="R"><circle cx="117" cy="377" r="5"/><text x="117" y="377" font-size="14.2">altimetry</text></g>
<g id="n-region" class="R"><circle cx="224" cy="373" r="4"/><text x="224" y="373" font-size="14.2">region</text></g>
<g id="n-simulation" class="R"><circle cx="356" cy="383" r="4"/><text x="356" y="383" font-size="14.8">simulation</text></g>
<g id="n-waves" class="R"><circle cx="132" cy="414" r="5"/><text x="132" y="414" font-size="14.4">waves</text></g>
<g id="n-wind" class="R"><circle cx="177" cy="428" r="6"/><text x="178" y="428" font-size="15.7">wind</text></g>
<g id="n-flux" class="R"><circle cx="246" cy="423" r="5"/><text x="246" y="422" font-size="14.3">flux</text></g>
<g id="n-fluxes" class="R"><circle cx="295" cy="408" r="5"/><text x="295" y="408" font-size="14.4">fluxes</text></g>
<g id="n-topex-poseidon" class="R"><circle cx="74" cy="451" r="6"/><text x="74" y="450" font-size="15.7">topex/poseidon</text></g>
<g id="n-enso" class="R"><circle cx="156" cy="459" r="5"/><text x="156" y="459" font-size="14.6">enso</text></g>
<g id="n-salinity" class="R"><circle cx="236" cy="460" r="6"/><text x="236" y="460" font-size="15.3">salinity</text></g>
<g id="n-general-circulation" class="R"><circle cx="112" cy="489" r="5"/><text x="113" y="489" font-size="14.6">general-circulation</text></g>
<g id="n-el-nino" class="R"><circle cx="216" cy="496" r="8"/><text x="217" y="496" font-size="15.5">el-nino</text></g>
<g id="n-atlantic" class="R"><circle cx="385" cy="467" r="10"/><text x="387" y="463" font-size="16.5">atlantic</text></g>
<g id="n-time-series" class="R"><circle cx="484" cy="473" r="6"/><text x="484" y="472" font-size="15">time-series</text></g>
<g id="n-monsoon" class="R"><circle cx="265" cy="552" r="5"/><text x="265" y="551" font-size="14.2">monsoon</text></g>
<g id="n-currents" class="R"><circle cx="143" cy="586" r="8"/><text x="143" y="584" font-size="15.3">currents</text></g>
<g id="n-patterns" class="R"><circle cx="282" cy="580" r="8"/><text x="281" y="578" font-size="15.2">patterns</text></g>
<g id="n-hydrography" class="R"><circle cx="104" cy="611" r="5"/><text x="104" y="610" font-size="14.2">hydrography</text></g>
<g id="n-fronts" class="R"><circle cx="183" cy="622" r="6"/><text x="183" y="622" font-size="14.3">fronts</text></g>
<g id="n-southern-ocean" class="R"><circle cx="401" cy="611" r="8"/><text x="402" y="611" font-size="15.6">southern-ocean</text></g>
<g id="n-iron" class="R"><circle cx="341" cy="645" r="5"/><text x="340" y="644" font-size="14.2">iron</text></g>
<g id="n-growth" class="R"><circle cx="392" cy="643" r="6"/><text x="393" y="643" font-size="14">growth</text></g>
<g id="n-eddy" class="R"><circle cx="128" cy="646" r="5"/><text x="128" y="646" font-size="13.9">eddy</text></g>
<g id="n-shelf" class="R"><circle cx="184" cy="661" r="7"/><text x="185" y="661" font-size="15.5">shelf</text></g>
<g id="n-zone" class="R"><circle cx="333" cy="701" r="5"/><text x="333" y="701" font-size="14.1">zone</text></g>
<g id="n-south-china-sea" class="R"><circle cx="218" cy="711" r="6"/><text x="219" y="711" font-size="14.5">south china sea</text></g>
<g id="n-primary-productivity" class="R"><circle cx="420" cy="728" r="6"/><text x="423" y="728" font-size="13.7">primary productivity</text></g>
<g id="n-california" class="R"><circle cx="273" cy="743" r="5"/><text x="274" y="742" font-size="14.3">california</text></g>
<g id="n-zooplankton" class="R"><circle cx="306" cy="780" r="5"/><text x="306" y="780" font-size="14">zooplankton</text></g>
<g id="n-primary-production" class="R"><circle cx="467" cy="777" r="7"/><text x="467" y="777" font-size="14.3">primary production</text></g>
<g id="n-chlorophyll-a-red" class="R"><circle cx="537" cy="650" r="6"/><text x="537" y="648" font-size="13.5">chlorophyll a</text></g>
<g id="n-global-ocean" class="R"><circle cx="520" cy="586" r="5"/><text x="520" y="585" font-size="14.2">global ocean</text></g>
<g id="n-transport" class="R"><circle cx="307" cy="467" r="13"/><text x="307" y="467" font-size="16.7">transport</text></g>
<g id="n-north-atlantic" class="R"><circle cx="404" cy="572" r="11"/><text x="404" y="570" font-size="16.9">north-atlantic</text></g>
<g id="n-continental-shelf" class="R"><circle cx="365" cy="677" r="10"/><text x="368" y="676" font-size="17.4">continental-shelf</text></g>
<g id="n-dynamics" class="R"><circle cx="254" cy="627" r="12"/><text x="254" y="627" font-size="18">dynamics</text></g>
<g id="n-sea" class="R"><circle cx="503" cy="503" r="17"/><text x="504" y="503" font-size="20.6">sea</text></g>
<g id="n-circulation" class="R"><circle cx="152" cy="555" r="19"/><text x="152" y="555" font-size="20.6">circulation</text></g>
<g id="n-phytoplankton" class="R"><circle cx="522" cy="684" r="22"/><text x="524" y="685" font-size="22.2">phytoplankton</text></g>
<g id="n-model" class="R"><circle cx="457" cy="382" r="23"/><text x="457" y="382" font-size="23">model</text></g>
<g id="n-variability" class="R"><circle cx="395" cy="517" r="26"/><text x="395" y="518" font-size="23.2">variability</text></g>
<g id="n-ocean" class="R"><circle cx="393" cy="428" r="25"/><text x="393" y="421" font-size="24.5">ocean</text></g>

<g id="n-sensors" class="B"><circle cx="862" cy="200" r="6"/><text x="863" y="201" font-size="14.4">sensors</text></g>
<g id="n-scanner" class="B"><circle cx="813" cy="224" r="5"/><text x="815" y="224" font-size="14.4">scanner</text></g>
<g id="n-aerosol-optical-thickness" class="B"><circle cx="960" cy="289" r="7"/><text x="961" y="288" font-size="15.4">aerosol optical-thickness</text></g>
<g id="n-inversion" class="B"><circle cx="783" cy="372" r="5"/><text x="783" y="371" font-size="14.4">inversion</text></g>
<g id="n-ocean-color-imagery" class="B"><circle cx="948" cy="387" r="6"/><text x="948" y="388" font-size="14.2">ocean color imagery</text></g>
<g id="n-light-scattering" class="B"><circle cx="848" cy="412" r="5"/><text x="849" y="411" font-size="14.5">light-scattering</text></g>
<g id="n-turbid-coastal" class="B"><circle cx="979" cy="446" r="8"/><text x="979" y="445" font-size="15.5">turbid coastal</text></g>
<g id="n-spectra" class="B"><circle cx="608" cy="497" r="5"/><text x="606" y="497" font-size="14">spectra</text></g>
<g id="n-seawifs-data" class="B"><circle cx="562" cy="543" r="6"/><text x="560" y="542" font-size="15.2">seawifs data</text></g>
<g id="n-bay" class="B"><circle cx="584" cy="598" r="6"/><text x="585" y="598" font-size="14.1">bay</text></g>
<g id="n-east-china-sea" class="B"><circle cx="670" cy="617" r="4"/><text x="670" y="617" font-size="14.4">east china sea</text></g>
<g id="n-ocean-color-2" class="B"><circle cx="763" cy="559" r="5"/><text x="762" y="557" font-size="14">ocean-color</text></g>
<g id="n-matter" class="B"><circle cx="820" cy="589" r="5"/><text x="821" y="589" font-size="14">matter</text></g>
<g id="n-suspended-particulate-matter" class="B"><circle cx="824" cy="649" r="5"/><text x="825" y="648" font-size="14.3">suspended particulate matter</text></g>
<g id="n-chesapeake-bay" class="B"><circle cx="870" cy="677" r="7"/><text x="870" y="677" font-size="14.2">chesapeake bay</text></g>
<g id="n-light" class="B"><circle cx="638" cy="741" r="5"/><text x="638" y="741" font-size="14.8">light</text></g>
<g id="n-remote-sensing-reflectance" class="B"><circle cx="947" cy="554" r="9"/><text x="944" y="553" font-size="15.3">remote-sensing reflectance</text></g>
<g id="n-light-absorption" class="B"><circle cx="791" cy="733" r="7"/><text x="792" y="732" font-size="15.7">light-absorption</text></g>
<g id="n-radiance" class="B"><circle cx="862" cy="252" r="10"/><text x="864" y="252" font-size="16.8">radiance</text></g>
<g id="n-seawifs-imagery" class="B"><circle cx="955" cy="499" r="10"/><text x="957" y="499" font-size="17">seawifs imagery</text></g>
<g id="n-color" class="B"><circle cx="694" cy="550" r="11"/><text x="694" y="550" font-size="17">color</text></g>
<g id="n-reflectance" class="B"><circle cx="767" cy="268" r="15"/><text x="766" y="268" font-size="18.2">reflectance</text></g>
<g id="n-absorption" class="B"><circle cx="778" cy="437" r="14"/><text x="778" y="437" font-size="18">absorption</text></g>
<g id="n-coastal-waters" class="B"><circle cx="848" cy="621" r="15"/><text x="848" y="621" font-size="18.2">coastal waters</text></g>
<g id="n-chlorophyll-a" class="B"><circle cx="675" cy="680" r="17"/><text x="675" y="680" font-size="18">chlorophyll-a</text></g>
<g id="n-waters" class="B"><circle cx="614" cy="572" r="14"/><text x="614" y="572" font-size="19.4">waters</text></g>
<g id="n-atmospheric-correction" class="B"><circle cx="850" cy="336" r="19"/><text x="851" y="334" font-size="22.3">atmospheric correction</text></g>
<g id="n-remote-sensing" class="B"><circle cx="600" cy="400" r="22"/><text x="597" y="400" font-size="23.2">remote sensing</text></g>
<g id="n-ocean-color" class="B"><circle cx="737" cy="512" r="23"/><text x="738" y="512" font-size="22.3">ocean color</text></g>
<g id="n-seawifs" class="B"><circle cx="683" cy="472" r="30"/><text x="682" y="470" font-size="26">seawifs</text></g>
</g>
</svg>
